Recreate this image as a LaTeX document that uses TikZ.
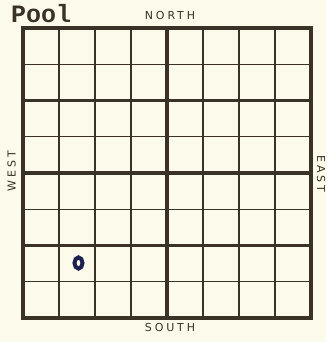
\documentclass[tikz,border=0pt]{standalone}
\usepackage{fontspec}
\setmainfont{Liberation Sans}
\newfontfamily\poolfont{Liberation Mono}
\newfontfamily\compassfont[LetterSpace=26]{DejaVu Sans}
\definecolor{paper}{HTML}{FCFAEA}
\definecolor{ink}{HTML}{3A3226}
\definecolor{pen}{HTML}{1C2150}
\tikzset{
    gridline/.style={draw=ink, line width=1.2pt},
    halfline/.style={draw=ink, line width=2.2pt},
    borderline/.style={draw=ink, line width=3.4pt, line cap=rect},
    compass/.style={text=ink, font=\compassfont\fontsize{11}{12}\selectfont, inner sep=0pt}
}
\begin{document}
\begin{tikzpicture}[x=1pt, y=1pt]
    % Paper
    \fill[paper] (0, 0) rectangle (326, 342);
    \useasboundingbox (0, 0) rectangle (326, 342);

    % Thin cell lines
    \foreach \i in {1, 3, 5, 7} {
        \draw[gridline] (23 + 36*\i, 24) -- (23 + 36*\i, 314);
        \draw[gridline] (23, 24 + 36.25*\i) -- (311, 24 + 36.25*\i);
    }
    % Quarter lines
    \foreach \i in {2, 6} {
        \draw[halfline] (23 + 36*\i, 24) -- (23 + 36*\i, 314);
        \draw[halfline] (23, 24 + 36.25*\i) -- (311, 24 + 36.25*\i);
    }
    % Middle lines
    \draw[borderline] (167, 24) -- (167, 314);
    \draw[borderline] (23, 169) -- (311, 169);
    % Border
    \draw[borderline] (23, 24) rectangle (311, 314);

    % Title
    \node[text=ink, font=\poolfont\bfseries\fontsize{25}{25}\selectfont, anchor=base west, inner sep=0pt]
        (title) at (11, 319) {Pool};

    % Compass points
    \node[compass] (north) at (170, 326) {NORTH};
    \node[compass] (south) at (170, 15) {SOUTH};
    \node[compass, rotate=90] (west) at (11.5, 171) {WEST};
    \node[compass, rotate=-90] (east) at (321, 168) {EAST};

    % Mark
    \draw[pen, line width=4pt] (78.5, 79) ellipse (4 and 5.6);
\end{tikzpicture}
\end{document}
